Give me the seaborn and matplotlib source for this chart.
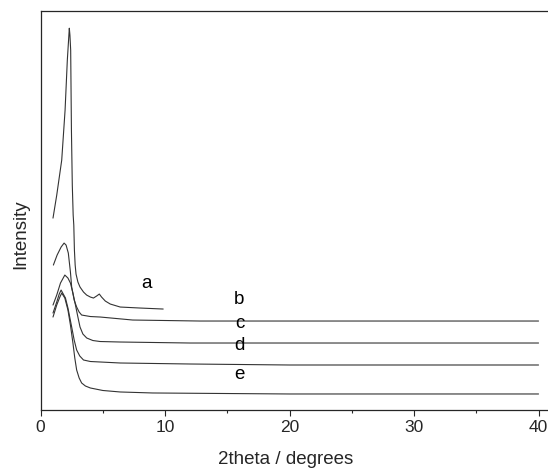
import matplotlib
matplotlib.use('agg')
import matplotlib.pyplot as plt
import seaborn as sns
from matplotlib.ticker import MultipleLocator

# XRD patterns (2theta in degrees, intensity in arbitrary units)
a_x = [1.0, 1.3, 1.7, 1.97, 2.15, 2.31, 2.36, 2.42, 2.45, 2.48, 2.55, 2.62, 2.67, 2.72, 2.78, 2.85, 3.0, 3.17,
       3.45, 3.7, 4.0, 4.25, 4.5, 4.72, 4.9, 5.2, 5.6, 6.4, 8.0, 9.85]
a_y = [192, 215, 250, 300, 350, 382, 375, 360, 320, 280, 225, 195, 185, 160, 145, 136, 128, 123,
       118, 115, 113, 112, 114, 116, 113, 109, 106, 103, 102, 101]

b_x = [1.03, 1.33, 1.65, 1.89, 2.05, 2.23, 2.4, 2.5, 2.7, 2.9, 3.1, 3.3, 4.0, 4.8, 7.4, 12.8, 20.0, 30.0, 40.0]
b_y = [145, 155, 163, 167, 165, 157, 138, 123, 110, 103, 98, 95, 93.5, 93, 90, 89, 89, 89, 89]

c_x = [1.0, 1.3, 1.6, 1.95, 2.2, 2.4, 2.6, 2.77, 3.0, 3.17, 3.4, 3.71, 4.2, 4.78, 6.4, 12.0, 20.0, 30.0, 40.0]
c_y = [105, 115, 127, 135, 132, 127, 117, 107, 93, 83, 76, 72, 69.5, 68.5, 68, 67, 67, 67, 67]

d_x = [1.0, 1.3, 1.5, 1.65, 2.0, 2.2, 2.5, 2.7, 2.9, 3.15, 3.45, 4.0, 4.8, 6.4, 12.0, 20.0, 30.0, 40.0]
d_y = [97, 108, 116, 120, 112, 102, 83, 70, 60, 54, 50, 48.5, 48, 47, 46, 45, 45, 45]

e_x = [1.0, 1.3, 1.55, 1.7, 1.95, 2.2, 2.4, 2.6, 2.75, 2.9, 3.1, 3.3, 3.6, 4.0, 5.0, 6.4, 9.0, 20.0, 30.0, 40.0]
e_y = [93, 105, 113, 117, 112, 100, 85, 67, 52, 40, 32, 27, 24, 22, 19.5, 18, 17, 16, 16, 16]

curves = [(a_x, a_y), (b_x, b_y), (c_x, c_y), (d_x, d_y), (e_x, e_y)]
labels = ['a', 'b', 'c', 'd', 'e']
label_x = [8.55, 15.9, 16.0, 16.0, 16.0]
label_y = [118, 102, 78, 56, 27]

sns.set_style('ticks')
plt.rcParams['font.family'] = ['Liberation Sans', 'DejaVu Sans']

fig = plt.figure(figsize=(5.48, 4.68), dpi=100)
ax = fig.add_axes([0.074, 0.124, 0.926, 0.852])

for xs, ys in curves:
    sns.lineplot(x=xs, y=ys, ax=ax, color='#333333', linewidth=0.8, sort=False)

for lab, lx, ly in zip(labels, label_x, label_y):
    ax.text(lx, ly, lab, fontsize=13.5, ha='center', va='bottom', color='black')

ax.set_xlim(0, 40.76)
ax.set_ylim(0, 399)
ax.set_yticks([])
ax.xaxis.set_major_locator(MultipleLocator(10))
ax.xaxis.set_minor_locator(MultipleLocator(5))
ax.tick_params(axis='x', which='major', direction='out', length=4, width=0.8, labelsize=12.5, pad=3)
ax.tick_params(axis='x', which='minor', direction='out', length=2, width=0.8)
ax.spines['right'].set_visible(False)
for s in ['left', 'bottom', 'top']:
    ax.spines[s].set_linewidth(0.9)
ax.set_xlabel('2theta / degrees', fontsize=13.5)
ax.set_ylabel('Intensity', fontsize=13.5)
ax.xaxis.set_label_coords(0.482, -0.102)
ax.yaxis.set_label_coords(-0.022, 0.44)

plt.savefig('out.png', dpi=100)
